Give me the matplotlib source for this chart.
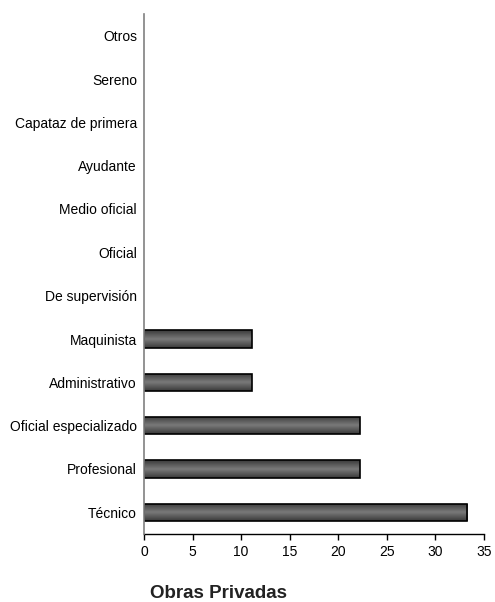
import numpy as np
import matplotlib.pyplot as plt
from matplotlib.colors import LinearSegmentedColormap

categories = ['Técnico', 'Profesional', 'Oficial especializado', 'Administrativo',
              'Maquinista', 'De supervisión', 'Oficial', 'Medio oficial',
              'Ayudante', 'Capataz de primera', 'Sereno', 'Otros']
values = [33.3, 22.2, 22.2, 11.1, 11.1, 0, 0, 0, 0, 0, 0, 0]
xticks = [0, 5, 10, 15, 20, 25, 30, 35]

plt.rcParams['font.family'] = ['Liberation Sans', 'DejaVu Sans']

fig = plt.figure(figsize=(4.95, 6.02), dpi=100)
ax = fig.add_axes([144 / 495, 68 / 602, 340 / 495, 520 / 602])

y = np.arange(len(categories))
bars = ax.barh(y, values, height=0.4, color='#666666', edgecolor='black', linewidth=1.2, zorder=2)

# shaded bar fill like the original (darker at edges, lighter in the middle)
cmap = LinearSegmentedColormap.from_list('g', ['#3a3a3a', '#7a7a7a', '#3a3a3a'])
grad = np.linspace(0, 1, 64).reshape(-1, 1)
for b in bars:
    if b.get_width() <= 0:
        b.set_visible(False)
        continue
    x0, y0, w, h = b.get_x(), b.get_y(), b.get_width(), b.get_height()
    im = ax.imshow(grad, cmap=cmap, aspect='auto', extent=[x0, x0 + w, y0, y0 + h],
                   origin='lower', zorder=2.5, interpolation='bilinear')
    im.set_clip_path(b)
    b.set_facecolor('none')
    b.set_zorder(3)

ax.set_xlim(0, 35)
ax.set_ylim(-0.5, len(categories) - 0.5)
ax.set_xticks(xticks)
ax.set_yticks(y)
ax.set_yticklabels(categories)

for s in ['top', 'right']:
    ax.spines[s].set_visible(False)
ax.spines['left'].set_color('#808080')
ax.spines['left'].set_linewidth(1.2)
ax.spines['left'].set_zorder(4)
ax.spines['bottom'].set_color('black')
ax.spines['bottom'].set_linewidth(1.0)

ax.tick_params(axis='y', length=0, pad=5, labelsize=10)
ax.tick_params(axis='x', length=4, width=1, direction='out', pad=4, labelsize=10)

fig.text(218 / 495, 1 - 593 / 602, 'Obras Privadas', ha='center', va='center',
         fontsize=13.5, fontweight='bold', color='#222222')

fig.savefig('out.png', dpi=100)
